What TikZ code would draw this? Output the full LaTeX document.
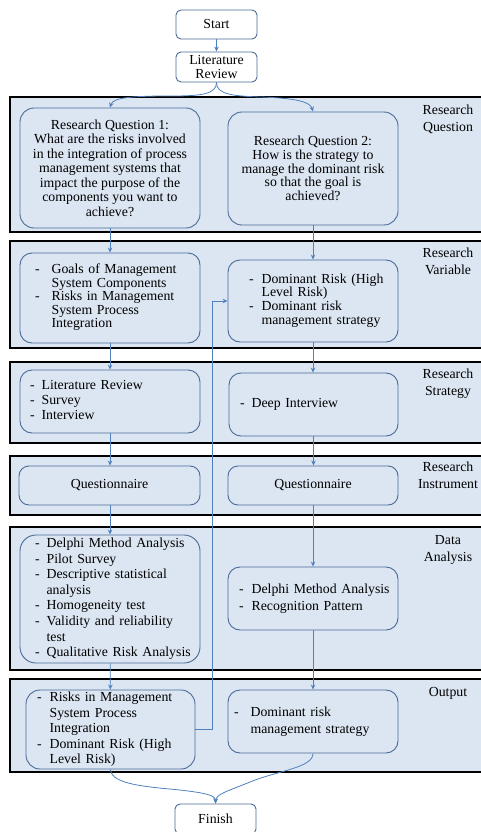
\documentclass[tikz,border=0pt]{standalone}
\usepackage{fontspec}
\setmainfont{Liberation Serif}
\usetikzlibrary{arrows.meta}
\definecolor{bandfill}{HTML}{DCE6F2}
\definecolor{boxline}{HTML}{4A6A96}
\definecolor{arrowc}{HTML}{4F81BD}
\definecolor{txt}{HTML}{000000}
\newcommand{\dlist}[2]{\begin{tabular}{@{}l@{\hspace{#1}}l@{}}#2\end{tabular}}
\tikzset{
  band/.style={draw=black, line width=2.2pt, fill=bandfill},
  box/.style={draw=boxline, line width=0.9pt, rounded corners=#1, inner ysep=0pt, text=txt},
  box/.default=10pt,
  term/.style={draw=boxline, line width=0.9pt, rounded corners=5pt, fill=white,
    minimum width=81pt, align=center, inner sep=0pt, text=txt,
    font=\fontsize{13.8}{13.5}\selectfont},
  lbl/.style={anchor=north, align=center, inner sep=0pt, text=txt,
    font=\fontsize{13.8}{17}\selectfont},
  arr/.style={draw=arrowc, line width=0.8pt, -{Stealth[length=5pt,width=4.5pt]}},
}
\begin{document}
\begin{tikzpicture}[x=1pt,y=-1pt]
\useasboundingbox (0,0) rectangle (481,832);
% bands
\path[band] (10,97) rectangle (495,232);
\path[band] (10,241) rectangle (495,348);
\path[band] (10,362) rectangle (495,443);
\path[band] (10,456) rectangle (495,515);
\path[band] (10,527) rectangle (495,670);
\path[band] (10,679) rectangle (495,772);
% band labels
\node[lbl] (l1) at (448,105) {Research\\Question};
\node[lbl] (l2) at (448,248) {Research\\Variable};
\node[lbl] (l3) at (448,369) {Research\\Strategy};
\node[lbl] (l4) at (448,462) {Research\\Instrument};
\node[lbl] (l5) at (448,535) {Data\\Analysis};
\node[lbl] (l6) at (448,687) {Output};
% terminals
\node[term, minimum height=29pt] (start) at (216.5,24.5) {Start};
\node[term, minimum height=30pt] (lit) at (216.5,67) {Literature\\Review};
\node[term, minimum height=30pt] (finish) at (215.5,819) {Finish};
% research question
\node[box=14pt, minimum width=180pt, minimum height=120pt, align=center,
  font=\fontsize{13.8}{14.5}\selectfont] (rq1) at (110,168)
  {Research Question 1:\\What are the risks involved\\in the integration of process\\management systems that\\impact the purpose of the\\components you want to\\achieve?};
\node[box=14pt, minimum width=170pt, minimum height=113pt, align=center,
  font=\fontsize{13.8}{13.8}\selectfont] (rq2) at (313,168.5)
  {Research Question 2:\\How is the strategy to\\manage the dominant risk\\so that the goal is\\achieved?};
% research variable
\node[box=12pt, minimum width=180pt, minimum height=90pt, inner xsep=15pt, text width=150pt,
  align=left, font=\fontsize{13.8}{13.5}\selectfont] (rv1) at (110,298)
  {\dlist{12pt}{-&Goals of Management\\&System Components\\-&Risks in Management\\&System Process\\&Integration}};
\node[box=12pt, minimum width=170pt, minimum height=82pt, inner xsep=21pt, text width=128pt,
  align=left, font=\fontsize{13.8}{13.8}\selectfont] (rv2) at (313,301)
  {\dlist{8pt}{-&Dominant Risk (High\\&Level Risk)\\-&Dominant risk\\&management strategy}};
% research strategy
\node[box=12pt, minimum width=180pt, minimum height=63pt, inner xsep=10pt, text width=160pt,
  align=left, font=\fontsize{13.8}{15}\selectfont] (rs1) at (110,401.5)
  {\dlist{7pt}{-&Literature Review\\-&Survey\\-&Interview}};
\node[box=12pt, minimum width=169pt, minimum height=63pt, inner xsep=11pt, text width=147pt,
  align=left, font=\fontsize{13.8}{15}\selectfont] (rs2) at (313.5,404.5)
  {\dlist{7pt}{-&Deep Interview}};
% research instrument
\node[box=10pt, minimum width=181pt, minimum height=39pt, align=center,
  font=\fontsize{13.8}{15}\selectfont] (ri1) at (109.5,485.5) {Questionnaire};
\node[box=10pt, minimum width=170pt, minimum height=39pt, align=center,
  font=\fontsize{13.8}{15}\selectfont] (ri2) at (313,485.5) {Questionnaire};
% data analysis
\node[box=16pt, minimum width=180pt, minimum height=128pt, inner xsep=15pt, text width=150pt,
  align=left, font=\fontsize{13.8}{15.6}\selectfont] (da1) at (110,599)
  {\dlist{7pt}{-&Delphi Method Analysis\\-&Pilot Survey\\-&Descriptive statistical\\&analysis\\-&Homogeneity test\\-&Validity and reliability\\&test\\-&Qualitative Risk Analysis}};
\node[box=12pt, minimum width=170pt, minimum height=63pt, inner xsep=11pt, text width=148pt,
  align=left, font=\fontsize{13.8}{16.5}\selectfont] (da2) at (313,598.5)
  {\dlist{8pt}{-&Delphi Method Analysis\\-&Recognition Pattern}};
% output
\node[box=14pt, minimum width=169pt, minimum height=79pt, inner xsep=11pt, text width=147pt,
  align=left, font=\fontsize{13.8}{15.6}\selectfont] (o1) at (110.5,729.5)
  {\dlist{8pt}{-&Risks in Management\\&System Process\\&Integration\\-&Dominant Risk (High\\&Level Risk)}};
\node[box=12pt, minimum width=170pt, minimum height=63pt, inner xsep=6pt, text width=158pt,
  align=left, font=\fontsize{13.8}{16.5}\selectfont] (o2) at (313,721.5)
  {\dlist{12pt}{-&Dominant risk\\&management strategy}};
% connectors
\draw[arr] (start) -- (lit);
\draw[arr] (lit.south) .. controls (216.5,94) and (202,96) .. (172,96)
  .. controls (135,96) and (113,97) .. (rq1.north);
\draw[arr] (lit.south) .. controls (216.5,94) and (231,96) .. (260,97)
  .. controls (292,98) and (310,101) .. (rq2.north);
\draw[arr] (rq1) -- (rv1);
\draw[arr] (rq2) -- (rv2);
\draw[arr] (rv1) -- (rs1);
\draw[arr] (rv2.south) -- (rs2.north -| rv2.south);
\draw[arr] (rs1) -- (ri1.north -| rs1.south);
\draw[arr] (rs2.south) -- (ri2.north -| rs2.south);
\draw[arr] (ri1.south -| rs1.south) -- (da1.north -| rs1.south);
\draw[arr] (ri2) -- (da2);
\draw[arr] (da1) -- (o1);
\draw[arr] (da2) -- (o2);
\coordinate (bend) at (212,729.5);
\draw[arr] (o1.east) -- (bend) |- (rv2.west);
\draw[arr] (o1.south) .. controls (111,785) and (150,787) .. (180,790)
  .. controls (205,793) and (215.5,795) .. (finish.north);
\draw[arr] (o2.south) .. controls (313,768) and (276,771) .. (250,782)
  .. controls (228,791) and (216,794) .. (finish.north);
\end{tikzpicture}
\end{document}
